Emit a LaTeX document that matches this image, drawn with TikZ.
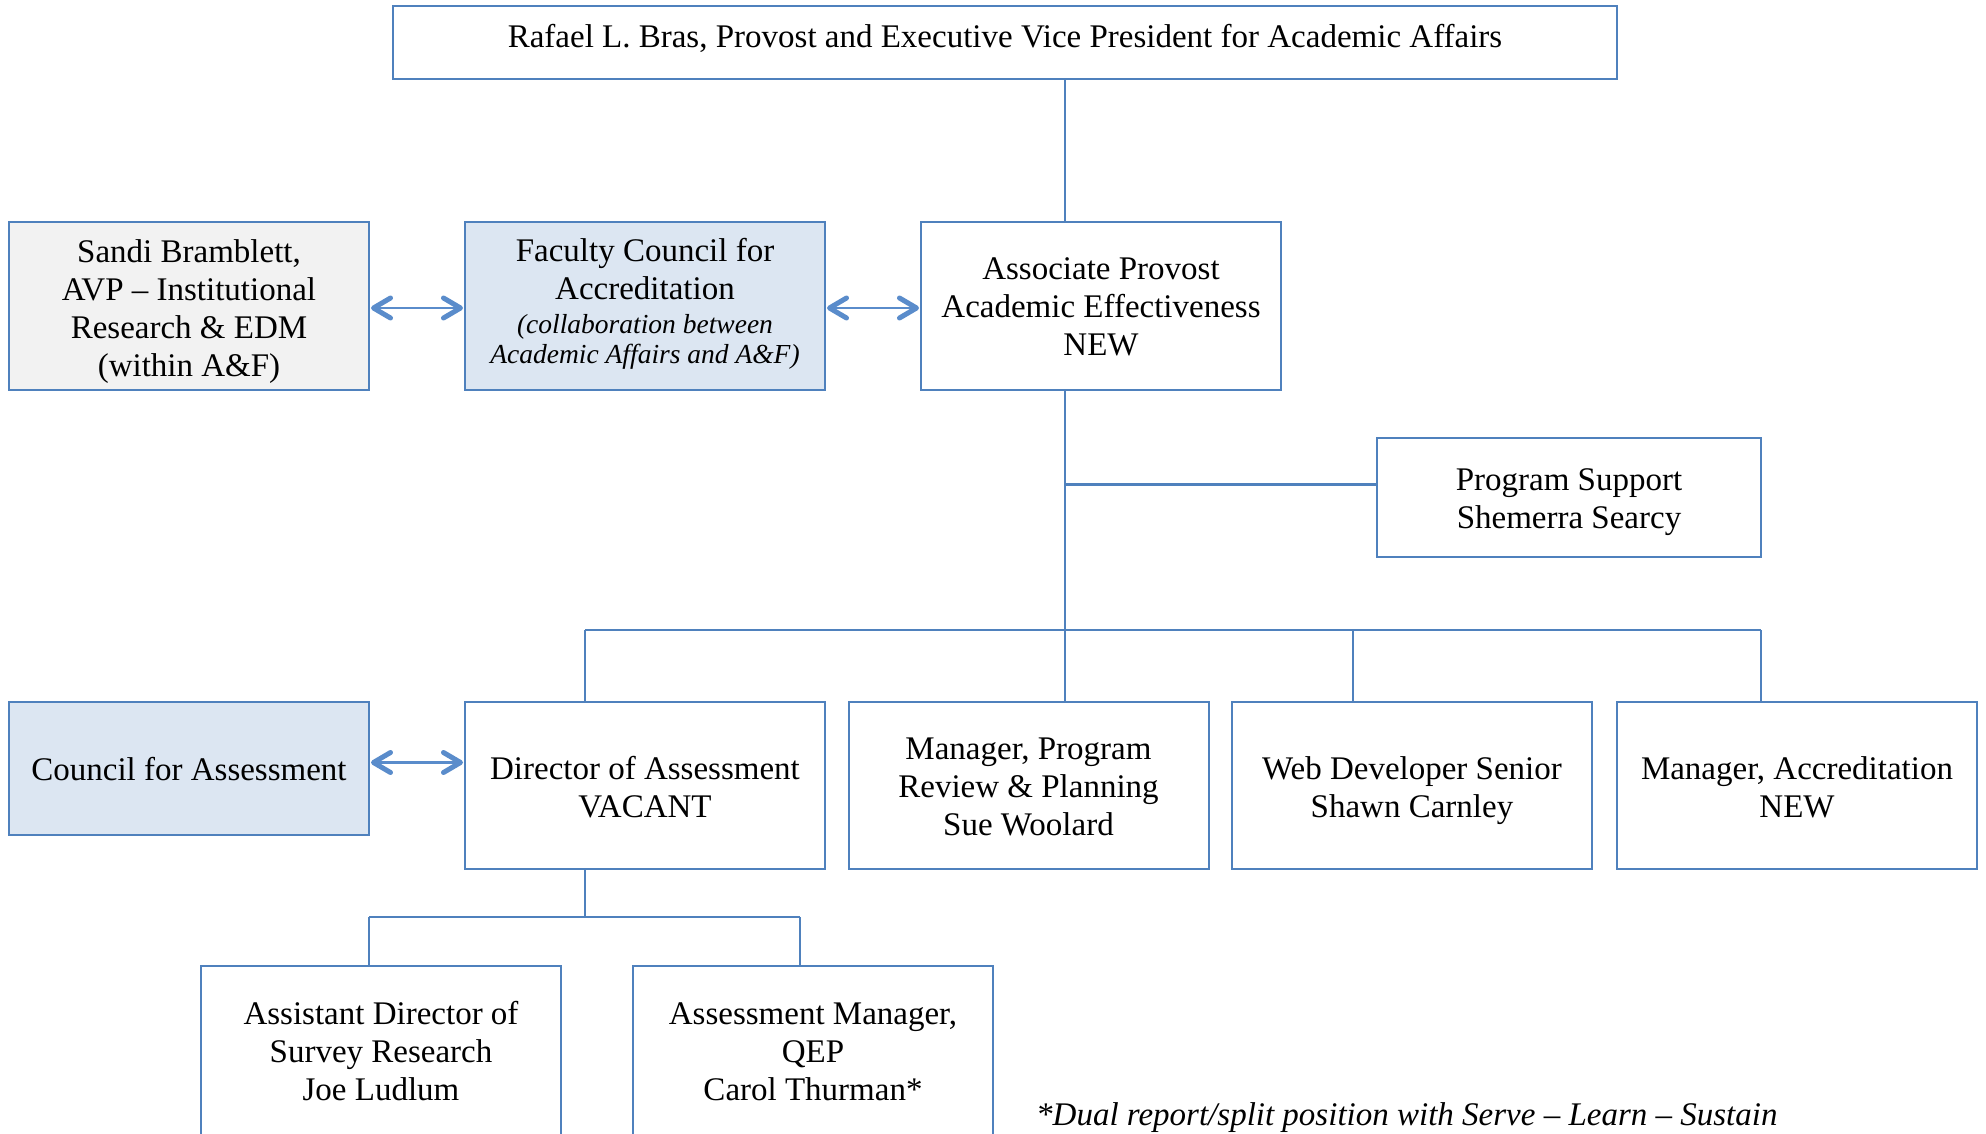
\documentclass[tikz,border=0pt]{standalone}
\usepackage{fontspec}
\setmainfont{Liberation Serif}
\usetikzlibrary{arrows.meta}
\definecolor{bord}{HTML}{4F81BD}
\definecolor{arr}{HTML}{5A8CCB}
\definecolor{greyfill}{HTML}{F2F2F2}
\definecolor{bluefill}{HTML}{DCE6F2}
\newcommand\fcsmall{\fontsize{27.5}{30}\selectfont\itshape}
\newcommand\tl[2][5pt]{\raisebox{-#1}[\height][\depth]{\begin{tabular}{@{}c@{}}#2\end{tabular}}}
\begin{document}
\begin{tikzpicture}[x=1pt,y=-1pt,
  box/.style={draw=bord, line width=2pt, fill=white, align=center, inner sep=0pt,
    font=\fontsize{33}{38}\selectfont, minimum width=360pt, minimum height=168pt},
  conn/.style={draw=bord, line width=2.5pt},
  biarrow/.style={draw=arr, line width=2.5pt,
    {Straight Barb[length=17pt,width=20pt,line width=5pt,round]}-{Straight Barb[length=17pt,width=20pt,line width=5pt,round]},
    shorten <=1pt, shorten >=1pt}]
\useasboundingbox (0,0) rectangle (1986,1134);
\clip (0,0) rectangle (1986,1134);
\fill[white] (0,0) rectangle (1986,1134);

% nodes
\node[box, minimum width=1224pt, minimum height=73pt] (top) at (1005,42.5)
  {\tl[-2.5pt]{Rafael L. Bras, Provost and Executive Vice President for Academic Affairs}};
\node[box, fill=greyfill] (sandi) at (189,306)
  {\tl[6pt]{Sandi Bramblett,\\AVP -- Institutional\\Research \& EDM\\(within A\&F)}};
\node[box, fill=bluefill] (fca) at (645,306)
  {\tl[-1pt]{Faculty Council for\\Accreditation\\[-4pt]{\fcsmall (collaboration between}\\[-8pt]{\fcsmall Academic Affairs and A\&F)}}};
\node[box] (ap) at (1101,306)
  {\tl[4pt]{Associate Provost\\Academic Effectiveness\\NEW}};
\node[box, minimum width=384pt, minimum height=119pt] (ps) at (1569,497.5)
  {\tl[4.5pt]{Program Support\\Shemerra Searcy}};
\node[box, fill=bluefill, minimum height=133pt] (cfa) at (189,768.5)
  {\tl[4pt]{Council for Assessment}};
\node[box, minimum height=167pt] (dir) at (645,785.5)
  {\tl{Director of Assessment\\VACANT}};
\node[box, minimum height=167pt] (mpr) at (1028.5,785.5)
  {\tl[4pt]{Manager, Program\\Review \& Planning\\Sue Woolard}};
\node[box, minimum height=167pt] (web) at (1412,785.5)
  {\tl{Web Developer Senior\\Shawn Carnley}};
\node[box, minimum height=167pt] (macc) at (1797,785.5)
  {\tl{Manager, Accreditation\\NEW}};
\node[box, minimum height=174pt] (ad) at (381,1053)
  {\tl[1.5pt]{Assistant Director of\\Survey Research\\Joe Ludlum}};
\node[box, minimum height=174pt] (am) at (813,1053)
  {\tl[1.5pt]{Assessment Manager,\\QEP\\Carol Thurman*}};
\node[anchor=west, inner sep=0pt, font=\fontsize{33}{38}\selectfont\itshape] (note) at (1036,1118)
  {*Dual report/split position with Serve -- Learn -- Sustain};

% coordinates
\coordinate (sp) at (1065,0);
\coordinate (barL) at (585,630);
\coordinate (barR) at (1761,630);
\coordinate (wx) at (1353,0);
\coordinate (subL) at (369,917);
\coordinate (subR) at (800,917);

% connectors
\draw[conn] (top.south -| sp) -- (ap.north -| sp);
\draw[conn] (ap.south -| sp) -- (barL -| sp);
\draw[conn] ([yshift=13pt]ps.west) -- ([yshift=13pt]ps.west -| sp);
\draw[conn] (barL) -- (barR);
\draw[conn] (barL) -- (dir.north -| barL);
\draw[conn] (barL -| sp) -- (mpr.north -| sp);
\draw[conn] (barL -| wx) -- (web.north -| wx);
\draw[conn] (barR) -- (macc.north -| barR);
\draw[conn] (dir.south -| barL) -- (subL -| barL);
\draw[conn] (subL) -- (subR);
\draw[conn] (subL) -- (ad.north -| subL);
\draw[conn] (subR) -- (am.north -| subR);

% arrows
\draw[biarrow] ([yshift=-2pt]sandi.east) -- ([yshift=-2pt]fca.west);
\draw[biarrow] ([yshift=-2pt]fca.east) -- ([yshift=-2pt]ap.west);
\draw[biarrow] ([yshift=6pt]cfa.east) -- ([yshift=6pt]cfa.east -| dir.west);
\end{tikzpicture}
\end{document}
